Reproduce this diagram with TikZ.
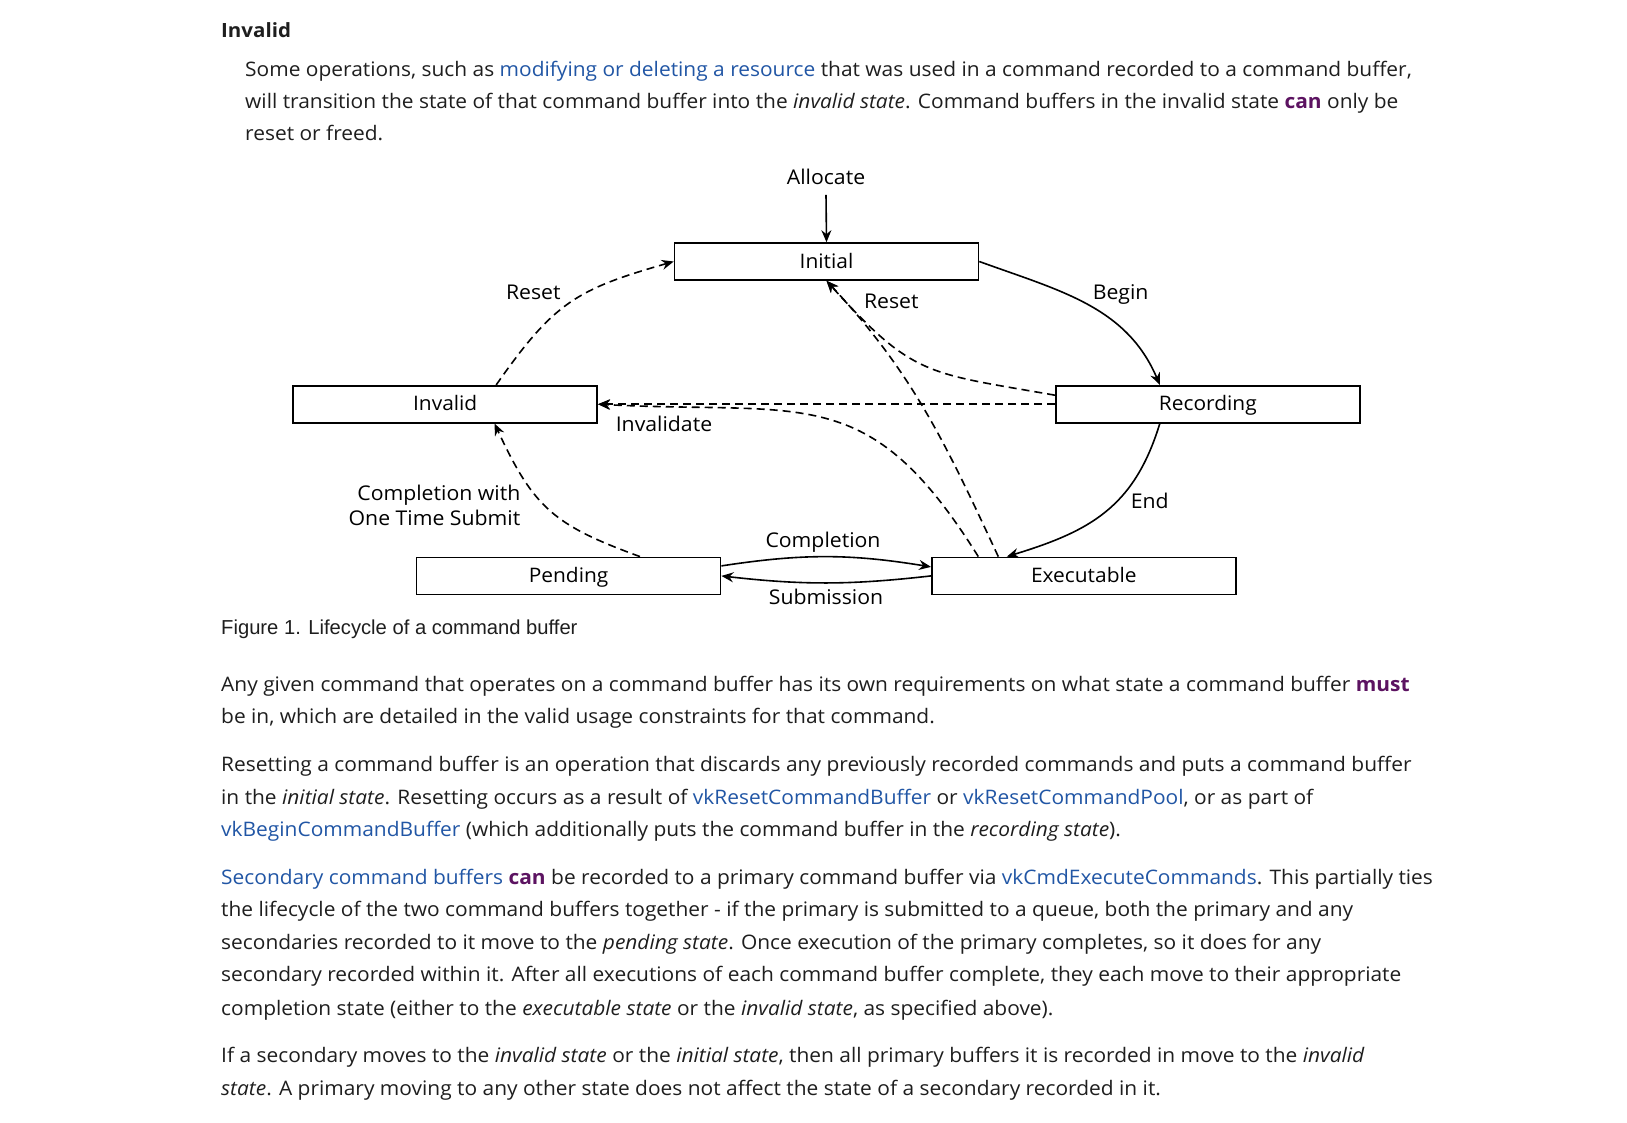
\documentclass[tikz,border=0pt]{standalone}
\usepackage{fontspec}
\setmainfont{Open Sans}[FakeStretch=1.046]
\newfontfamily\capfont{Liberation Sans}
\usepackage{xcolor}
\usepackage{tikz}
\usetikzlibrary{arrows.meta, positioning, calc}

\definecolor{lnkblue}{HTML}{2156A5}
\definecolor{kwpurple}{HTML}{5C1361}
\definecolor{bodytext}{HTML}{1E1E1E}
\newcommand{\lnk}[1]{\textcolor{lnkblue}{#1}}
\newcommand{\kw}[1]{\textcolor{kwpurple}{\bfseries #1}}

\begin{document}
\begin{tikzpicture}[x=1pt, y=1pt]

		\tikzstyle{statebox}=[draw=black, line width=1.6pt, minimum width=304pt, minimum height=37pt, text height=13.5pt, text depth=0pt, inner sep=0pt, font=\fontsize{20}{24}\selectfont]
		\tikzstyle{lbl}=[anchor=base, inner sep=0pt, font=\fontsize{20.3}{25}\selectfont]
		\tikzstyle{txtline}=[anchor=base west, inner sep=0pt, text=bodytext, font=\fontsize{20}{32}\selectfont]
		\tikzstyle{arr}=[line width=1.6pt, -{Stealth[length=12pt, width=10pt, inset=4pt]}]
		\tikzstyle{darr}=[arr, dash pattern=on 8pt off 5pt]

		\useasboundingbox (0,0) rectangle (1627,-1122);
		\fill[white] (0,0) rectangle (1627,-1122);

		%% text above the figure
		\node (head) at (221,-37) [txtline, font=\fontsize{19.6}{32}\bfseries] {Invalid};
		\node (p11) at (245,-76) [txtline] {Some operations, such as \lnk{modifying or deleting a resource} that was used in a command recorded to a command buffer,};
		\node (p12) at (245,-108.5) [txtline] {will transition the state of that command buffer into the \emph{invalid state}. Command buffers in the invalid state \kw{can} only be};
		\node (p13) at (245,-140.5) [txtline] {reset or freed.};

		%% states
		\node (sinit) at (826.5,-261.5) [statebox] {Initial};
		\node (sinv) at (445.2,-404.2) [statebox] {Invalid};
		\node (srec) at (1207.8,-404.2) [statebox] {Recording};
		\node (spend) at (568.6,-575.9) [statebox] {Pending};
		\node (sexec) at (1083.8,-575.9) [statebox] {Executable};

		%% labels
		\node (alloc) at (826,-184.5) [lbl] {Allocate};
		\node (lreset1) at (533.3,-299.3) [lbl] {Reset};
		\node (lreset2) at (891.3,-308) [lbl] {Reset};
		\node (lbegin) at (1120.6,-299.3) [lbl] {Begin};
		\node (linvd) at (664,-431.8) [lbl] {Invalidate};
		\node (lonce1) at (520.5,-500) [lbl, anchor=base east] {Completion with};
		\node (lonce2) at (520.5,-525) [lbl, anchor=base east] {One Time Submit};
		\node (lend) at (1149.7,-508.3) [lbl] {End};
		\node (lcomp) at (823,-547.3) [lbl] {Completion};
		\node (lsubm) at (826,-604.3) [lbl] {Submission};

		%% transitions
		\draw [arr] ([yshift=-10pt]alloc.south) -- (sinit.north);
		\draw [arr] (sinit.east) to [out=-20, in=113] ([xshift=-48pt]srec.north);
		\draw [arr] ([xshift=-48pt]srec.south) to [out=-107, in=17, looseness=1.1] ([xshift=-77pt]sexec.north);
		\draw [arr] ([yshift=10pt]spend.east) to [bend left=9] ([yshift=9pt]sexec.west);
		\draw [arr] (sexec.west) to [bend left=6.5] (spend.east);

		\draw [darr] ([xshift=51pt]sinv.north) to [out=55, in=196, looseness=1.2] (sinit.west);
		\draw [darr] ([xshift=71.4pt]spend.north) to [out=160, in=-65, looseness=1.2] ([xshift=49.3pt]sinv.south);
		\draw [darr] (srec.west) -- (sinv.east);
		\draw [darr] ([yshift=9pt]srec.west) to [out=170, in=-48, looseness=1.3] (sinit.south);
		\draw [darr] ([xshift=-85.5pt]sexec.north) to [out=115, in=-47] (sinit.south);
		\draw [darr] ([xshift=-105.5pt]sexec.north) to [out=122, in=-3, looseness=1.3] (sinv.east);

		%% caption and text below
		\node (fcap) at (221,-634) [txtline, font=\capfont\fontsize{20.2}{24}\selectfont] {Figure 1. Lifecycle of a command buffer};

		\node (p21) at (221,-691.7) [txtline] {Any given command that operates on a command buffer has its own requirements on what state a command buffer \kw{must}};
		\node (p22) at (221,-723.5) [txtline] {be in, which are detailed in the valid usage constraints for that command.};

		\node (p31) at (221,-771.7) [txtline] {Resetting a command buffer is an operation that discards any previously recorded commands and puts a command buffer};
		\node (p32) at (221,-804) [txtline] {in the \emph{initial state}. Resetting occurs as a result of \lnk{vkResetCommandBuffer} or \lnk{vkResetCommandPool}, or as part of};
		\node (p33) at (221,-836.2) [txtline] {\lnk{vkBeginCommandBuffer} (which additionally puts the command buffer in the \emph{recording state}).};

		\node (p41) at (221,-884.3) [txtline] {\lnk{Secondary command buffers} \kw{can} be recorded to a primary command buffer via \lnk{vkCmdExecuteCommands}. This partially ties};
		\node (p42) at (221,-916.7) [txtline] {the lifecycle of the two command buffers together - if the primary is submitted to a queue, both the primary and any};
		\node (p43) at (221,-949) [txtline] {secondaries recorded to it move to the \emph{pending state}. Once execution of the primary completes, so it does for any};
		\node (p44) at (221,-981.7) [txtline] {secondary recorded within it. After all executions of each command buffer complete, they each move to their appropriate};
		\node (p45) at (221,-1015) [txtline] {completion state (either to the \emph{executable state} or the \emph{invalid state}, as specified above).};

		\node (p51) at (221,-1062.7) [txtline] {If a secondary moves to the \emph{invalid state} or the \emph{initial state}, then all primary buffers it is recorded in move to the \emph{invalid}};
		\node (p52) at (221,-1095) [txtline] {\emph{state}. A primary moving to any other state does not affect the state of a secondary recorded in it.};

\end{tikzpicture}
\end{document}
